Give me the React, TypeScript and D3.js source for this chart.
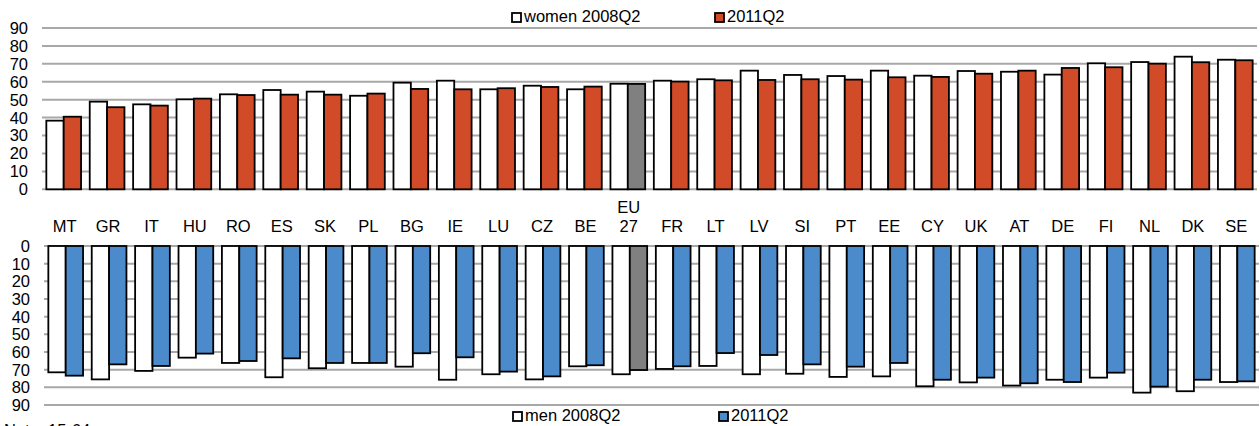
import * as d3 from "d3";

const categories = ["MT", "GR", "IT", "HU", "RO", "ES", "SK", "PL", "BG", "IE", "LU", "CZ", "BE", "EU\n27", "FR", "LT", "LV", "SI", "PT", "EE", "CY", "UK", "AT", "DE", "FI", "NL", "DK", "SE"];

const women2008 = [38.3, 48.9, 47.4, 50.2, 53.0, 55.4, 54.5, 52.2, 59.5, 60.6, 55.8, 57.8, 55.8, 58.9, 60.6, 61.4, 66.2, 63.8, 63.2, 66.2, 63.4, 66.0, 65.6, 64.0, 70.3, 71.0, 74.0, 72.3];
const women2011 = [40.5, 45.8, 46.7, 50.6, 52.6, 52.8, 52.8, 53.4, 56.0, 55.8, 56.4, 57.1, 57.3, 58.8, 60.1, 60.8, 61.0, 61.4, 61.2, 62.5, 62.7, 64.5, 66.2, 67.7, 68.1, 70.1, 70.9, 72.0];

const men2008 = [71.5, 75.5, 70.7, 63.2, 66.2, 74.3, 69.2, 66.2, 68.3, 75.7, 72.6, 75.5, 68.1, 72.6, 69.6, 67.9, 72.6, 72.3, 74.1, 73.8, 79.4, 77.2, 79.0, 75.7, 74.5, 83.0, 82.2, 77.0];
const men2011 = [73.4, 67.0, 67.9, 60.9, 65.1, 63.6, 66.2, 66.2, 60.7, 63.0, 71.1, 73.8, 67.5, 70.2, 68.1, 60.6, 61.7, 67.0, 68.3, 66.2, 75.7, 74.5, 77.7, 77.0, 71.7, 79.6, 75.7, 76.6];

const ticks = [0, 10, 20, 30, 40, 50, 60, 70, 80, 90];
const seriesKeys = ["2008", "2011"];

const W = 1260;
const H = 426;
const font = "'Liberation Sans', Arial, sans-serif";
const fs = 16.5;
const red = "#d24b28";
const blue = "#4b8bcb";
const grey = "#808080";
const gridColor = "#a8a8a8";

const xTop = d3.scaleBand<string>().domain(categories).range([42, 1257]).paddingInner(0.2).paddingOuter(0.1);
const xBot = d3.scaleBand<string>().domain(categories).range([44, 1259]).paddingInner(0.2).paddingOuter(0.1);
const yTop = d3.scaleLinear().domain([0, 90]).range([189.3, 28]);
const yBot = d3.scaleLinear().domain([0, 90]).range([246, 405]);

function Panel({ x, y, old, recent, color, tickX, bottom }: {
  x: d3.ScaleBand<string>;
  y: d3.ScaleLinear<number, number>;
  old: number[];
  recent: number[];
  color: string;
  tickX: number;
  bottom: boolean;
}) {
  const inner = d3.scaleBand<string>().domain(seriesKeys).range([0, x.bandwidth()]);
  const [r0, r1] = x.range();
  return (
    <g>
      {ticks.map((t) => (
        <g key={t}>
          <line x1={r0} x2={r1} y1={y(t)} y2={y(t)} stroke={gridColor} strokeWidth={2} />
          <text x={tickX} y={y(t)} dy="0.36em" textAnchor="end" fontSize={fs} fontFamily={font} fill="#000">
            {t}
          </text>
        </g>
      ))}
      {categories.map((c, i) => {
        const x0 = x(c) ?? 0;
        const vals = [old[i], recent[i]];
        return vals.map((v, k) => {
          const top = bottom ? y(0) : y(v);
          const h = Math.abs(y(v) - y(0));
          const fill = k === 0 ? "#ffffff" : c.startsWith("EU") ? grey : color;
          return (
            <rect
              key={c + k}
              x={x0 + (inner(seriesKeys[k]) ?? 0)}
              y={top}
              width={inner.bandwidth()}
              height={h}
              fill={fill}
              stroke="#000"
              strokeWidth={1.8}
            />
          );
        });
      })}
    </g>
  );
}

function Legend({ x, y, label, fill }: { x: number; y: number; label: string; fill: string }) {
  return (
    <g>
      <rect x={x} y={y - 9} width={9} height={9} fill={fill} stroke="#000" strokeWidth={1.8} />
      <text x={x + 12} y={y} fontSize={fs} fontFamily={font} fill="#000">
        {label}
      </text>
    </g>
  );
}

export default function App() {
  return (
    <svg width={W} height={H} style={{ position: "absolute", left: 0, top: 0, background: "#fff" }}>
      <rect width={W} height={H} fill="#fff" />
      <Panel x={xTop} y={yTop} old={women2008} recent={women2011} color={red} tickX={28} bottom={false} />
      <Panel x={xBot} y={yBot} old={men2008} recent={men2011} color={blue} tickX={30} bottom={true} />
      {categories.map((c) => {
        const lines = c.split("\n");
        const cx = (xTop(c) ?? 0) + xTop.bandwidth() / 2 + 1;
        return lines.map((ln, j) => (
          <text
            key={c + j}
            x={cx}
            y={232 - (lines.length - 1 - j) * 19.5}
            textAnchor="middle"
            fontSize={fs}
            fontFamily={font}
            fill="#000"
          >
            {ln}
          </text>
        ));
      })}
      <Legend x={512} y={22} label="women 2008Q2" fill="#fff" />
      <Legend x={715} y={22} label="2011Q2" fill={red} />
      <Legend x={513} y={421} label="men 2008Q2" fill="#fff" />
      <Legend x={719} y={421} label="2011Q2" fill={blue} />
      <text x={4} y={436} fontSize={fs} fontFamily={font} fill="#000">
        Note: 15-64
      </text>
    </svg>
  );
}
